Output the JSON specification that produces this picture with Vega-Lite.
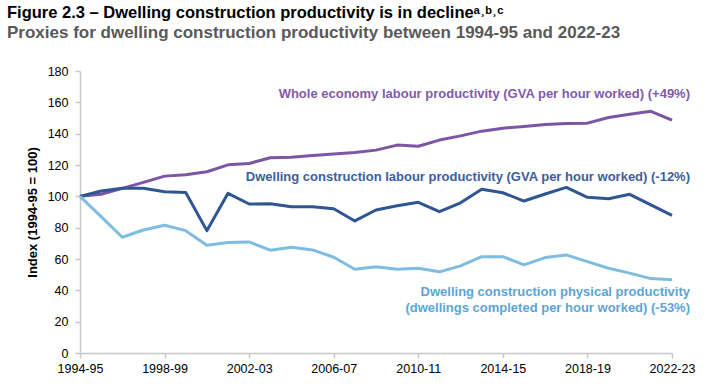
{
  "$schema": "https://vega.github.io/schema/vega-lite/v6.json",
  "width": 592,
  "height": 282,
  "autosize": "none",
  "padding": {"left": 80, "top": 71, "right": 38, "bottom": 32},
  "background": "white",
  "config": {
    "view": {"stroke": null},
    "font": "Liberation Sans",
    "axis": {
      "labelOverlap": false,
      "labelFont": "Liberation Sans",
      "labelFontSize": 12.5,
      "labelColor": "#000000",
      "domainColor": "#c8c8c8",
      "domainWidth": 1.5,
      "tickColor": "#c8c8c8",
      "tickWidth": 1.5,
      "tickSize": 5,
      "grid": false
    }
  },
  "title": {
    "text": "Figure 2.3 – Dwelling construction productivity is in declineᵃ˒ᵇ˒ᶜ",
    "subtitle": "Proxies for dwelling construction productivity between 1994-95 and 2022-23",
    "anchor": "start",
    "frame": "group",
    "dx": -73,
    "offset": 24,
    "font": "Liberation Sans",
    "fontSize": 16.5,
    "fontWeight": "bold",
    "color": "#000000",
    "subtitleFont": "Liberation Sans",
    "subtitleFontSize": 17,
    "subtitleFontWeight": "bold",
    "subtitleColor": "#595959",
    "subtitlePadding": 4
  },
  "datasets": {
    "series": [
      {"year": "1994-95", "series": "Whole economy", "value": 100},
      {"year": "1995-96", "series": "Whole economy", "value": 101.3},
      {"year": "1996-97", "series": "Whole economy", "value": 105.1},
      {"year": "1997-98", "series": "Whole economy", "value": 108.9},
      {"year": "1998-99", "series": "Whole economy", "value": 112.9},
      {"year": "1999-00", "series": "Whole economy", "value": 113.8},
      {"year": "2000-01", "series": "Whole economy", "value": 115.7},
      {"year": "2001-02", "series": "Whole economy", "value": 120.1},
      {"year": "2002-03", "series": "Whole economy", "value": 121},
      {"year": "2003-04", "series": "Whole economy", "value": 124.6},
      {"year": "2004-05", "series": "Whole economy", "value": 125},
      {"year": "2005-06", "series": "Whole economy", "value": 126.1},
      {"year": "2006-07", "series": "Whole economy", "value": 127},
      {"year": "2007-08", "series": "Whole economy", "value": 128},
      {"year": "2008-09", "series": "Whole economy", "value": 129.5},
      {"year": "2009-10", "series": "Whole economy", "value": 132.7},
      {"year": "2010-11", "series": "Whole economy", "value": 132},
      {"year": "2011-12", "series": "Whole economy", "value": 135.9},
      {"year": "2012-13", "series": "Whole economy", "value": 138.6},
      {"year": "2013-14", "series": "Whole economy", "value": 141.6},
      {"year": "2014-15", "series": "Whole economy", "value": 143.5},
      {"year": "2015-16", "series": "Whole economy", "value": 144.6},
      {"year": "2016-17", "series": "Whole economy", "value": 145.9},
      {"year": "2017-18", "series": "Whole economy", "value": 146.5},
      {"year": "2018-19", "series": "Whole economy", "value": 146.7},
      {"year": "2019-20", "series": "Whole economy", "value": 150.3},
      {"year": "2020-21", "series": "Whole economy", "value": 152.4},
      {"year": "2021-22", "series": "Whole economy", "value": 154.3},
      {"year": "2022-23", "series": "Whole economy", "value": 148.6},
      {"year": "1994-95", "series": "Dwelling labour", "value": 100},
      {"year": "1995-96", "series": "Dwelling labour", "value": 103.4},
      {"year": "1996-97", "series": "Dwelling labour", "value": 105.1},
      {"year": "1997-98", "series": "Dwelling labour", "value": 105.1},
      {"year": "1998-99", "series": "Dwelling labour", "value": 102.9},
      {"year": "1999-00", "series": "Dwelling labour", "value": 102.5},
      {"year": "2000-01", "series": "Dwelling labour", "value": 78.1},
      {"year": "2001-02", "series": "Dwelling labour", "value": 101.9},
      {"year": "2002-03", "series": "Dwelling labour", "value": 95.1},
      {"year": "2003-04", "series": "Dwelling labour", "value": 95.3},
      {"year": "2004-05", "series": "Dwelling labour", "value": 93.4},
      {"year": "2005-06", "series": "Dwelling labour", "value": 93.4},
      {"year": "2006-07", "series": "Dwelling labour", "value": 92.1},
      {"year": "2007-08", "series": "Dwelling labour", "value": 84.3},
      {"year": "2008-09", "series": "Dwelling labour", "value": 91.3},
      {"year": "2009-10", "series": "Dwelling labour", "value": 94.0},
      {"year": "2010-11", "series": "Dwelling labour", "value": 96.2},
      {"year": "2011-12", "series": "Dwelling labour", "value": 90.2},
      {"year": "2012-13", "series": "Dwelling labour", "value": 95.9},
      {"year": "2013-14", "series": "Dwelling labour", "value": 104.5},
      {"year": "2014-15", "series": "Dwelling labour", "value": 102.3},
      {"year": "2015-16", "series": "Dwelling labour", "value": 97.0},
      {"year": "2016-17", "series": "Dwelling labour", "value": 101.5},
      {"year": "2017-18", "series": "Dwelling labour", "value": 105.7},
      {"year": "2018-19", "series": "Dwelling labour", "value": 99.4},
      {"year": "2019-20", "series": "Dwelling labour", "value": 98.5},
      {"year": "2020-21", "series": "Dwelling labour", "value": 101.3},
      {"year": "2021-22", "series": "Dwelling labour", "value": 94.5},
      {"year": "2022-23", "series": "Dwelling labour", "value": 87.9},
      {"year": "1994-95", "series": "Dwelling physical", "value": 100},
      {"year": "1995-96", "series": "Dwelling physical", "value": 87},
      {"year": "1996-97", "series": "Dwelling physical", "value": 73.9},
      {"year": "1997-98", "series": "Dwelling physical", "value": 78.5},
      {"year": "1998-99", "series": "Dwelling physical", "value": 81.5},
      {"year": "1999-00", "series": "Dwelling physical", "value": 78.1},
      {"year": "2000-01", "series": "Dwelling physical", "value": 68.8},
      {"year": "2001-02", "series": "Dwelling physical", "value": 70.5},
      {"year": "2002-03", "series": "Dwelling physical", "value": 70.9},
      {"year": "2003-04", "series": "Dwelling physical", "value": 65.6},
      {"year": "2004-05", "series": "Dwelling physical", "value": 67.5},
      {"year": "2005-06", "series": "Dwelling physical", "value": 65.8},
      {"year": "2006-07", "series": "Dwelling physical", "value": 61.1},
      {"year": "2007-08", "series": "Dwelling physical", "value": 53.5},
      {"year": "2008-09", "series": "Dwelling physical", "value": 55},
      {"year": "2009-10", "series": "Dwelling physical", "value": 53.5},
      {"year": "2010-11", "series": "Dwelling physical", "value": 54.1},
      {"year": "2011-12", "series": "Dwelling physical", "value": 51.8},
      {"year": "2012-13", "series": "Dwelling physical", "value": 55.6},
      {"year": "2013-14", "series": "Dwelling physical", "value": 61.5},
      {"year": "2014-15", "series": "Dwelling physical", "value": 61.5},
      {"year": "2015-16", "series": "Dwelling physical", "value": 56.2},
      {"year": "2016-17", "series": "Dwelling physical", "value": 60.9},
      {"year": "2017-18", "series": "Dwelling physical", "value": 62.6},
      {"year": "2018-19", "series": "Dwelling physical", "value": 58.3},
      {"year": "2019-20", "series": "Dwelling physical", "value": 54.1},
      {"year": "2020-21", "series": "Dwelling physical", "value": 51},
      {"year": "2021-22", "series": "Dwelling physical", "value": 47.5},
      {"year": "2022-23", "series": "Dwelling physical", "value": 46.7}
    ],
    "labels": [
      {"series": "Whole economy", "text": "Whole economy labour productivity (GVA per hour worked) (+49%)"},
      {"series": "Dwelling labour", "text": "Dwelling construction labour productivity (GVA per hour worked) (-12%)"},
      {"series": "Dwelling physical", "text": ["Dwelling construction physical productivity", "(dwellings completed per hour worked) (-53%)"]}
    ]
  },
  "encoding": {
    "x": {
      "field": "year",
      "type": "ordinal",
      "scale": {"type": "point", "padding": 0},
      "axis": {
        "title": null,
        "values": ["1994-95", "1998-99", "2002-03", "2006-07", "2010-11", "2014-15", "2018-19", "2022-23"],
        "labelAngle": 0,
        "labelPadding": 4
      }
    },
    "y": {
      "field": "value",
      "type": "quantitative",
      "scale": {"domain": [0, 180], "nice": false},
      "axis": {
        "title": "Index (1994-95 = 100)",
        "titleFont": "Liberation Sans",
        "titleFontSize": 13,
        "titleFontWeight": "bold",
        "titleColor": "#000000",
        "titlePadding": 8,
        "values": [0, 20, 40, 60, 80, 100, 120, 140, 160, 180],
        "tickCount": 10,
        "labelPadding": 7
      }
    }
  },
  "layer": [
    {
      "data": {"name": "series"},
      "mark": {"type": "line", "strokeWidth": 3, "strokeJoin": "round"},
      "encoding": {
        "color": {
          "field": "series",
          "type": "nominal",
          "scale": {
            "domain": ["Whole economy", "Dwelling labour", "Dwelling physical"],
            "range": ["#7C55A4", "#2F5592", "#7EBCE0"]
          },
          "legend": null
        }
      }
    },
    {
      "data": {"name": "labels"},
      "transform": [
        {"filter": "datum.series === 'Whole economy'"},
        {"calculate": "'2022-23'", "as": "year"},
        {"calculate": "162.6", "as": "value"}
      ],
      "mark": {"type": "text", "align": "right", "baseline": "alphabetic", "dx": 18, "fontSize": 13, "fontWeight": "bold", "font": "Liberation Sans", "color": "#7F5BA8"},
      "encoding": {"text": {"field": "text"}}
    },
    {
      "data": {"name": "labels"},
      "transform": [
        {"filter": "datum.series === 'Dwelling labour'"},
        {"calculate": "'2022-23'", "as": "year"},
        {"calculate": "109.9", "as": "value"}
      ],
      "mark": {"type": "text", "align": "right", "baseline": "alphabetic", "dx": 18, "fontSize": 13, "fontWeight": "bold", "font": "Liberation Sans", "color": "#3C5E9E"},
      "encoding": {"text": {"field": "text"}}
    },
    {
      "data": {"name": "labels"},
      "transform": [
        {"filter": "datum.series === 'Dwelling physical'"},
        {"calculate": "'2022-23'", "as": "year"},
        {"calculate": "36.5", "as": "value"}
      ],
      "mark": {"type": "text", "align": "right", "baseline": "alphabetic", "dx": 18, "fontSize": 13, "fontWeight": "bold", "font": "Liberation Sans", "color": "#5BA5D6", "lineHeight": 16},
      "encoding": {"text": {"field": "text"}}
    }
  ]
}
